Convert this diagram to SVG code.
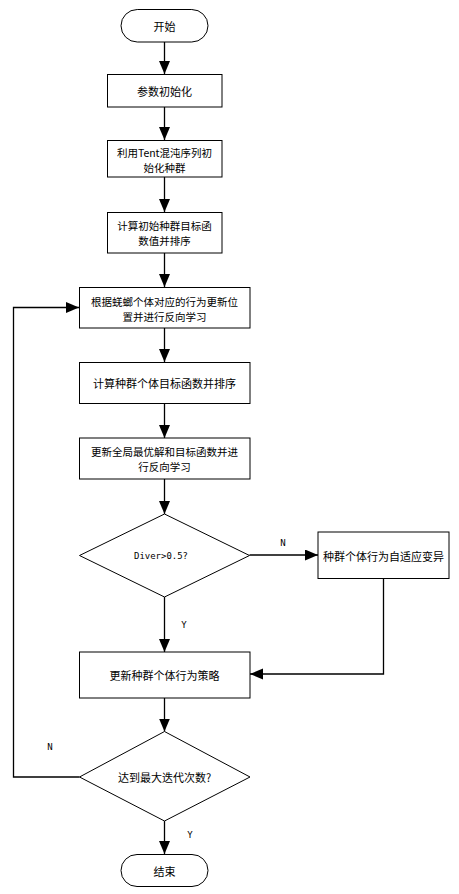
<svg xmlns="http://www.w3.org/2000/svg" width="459" height="894" viewBox="0 0 459 894">
<defs>
<style>
.box{fill:#fff;stroke:#000;stroke-width:1}
.t{font-family:"Noto Sans CJK SC","Liberation Sans",sans-serif;font-size:11px;fill:#000;text-anchor:middle;dominant-baseline:central}
.t2{font-size:10.5px}
.m{font-family:"DejaVu Sans Mono","Liberation Mono",monospace;font-size:9px;fill:#000;text-anchor:middle;dominant-baseline:central}
.c{fill:none;stroke:#000;stroke-width:1.3}
</style>
<marker id="ah" markerUnits="userSpaceOnUse" markerWidth="14" markerHeight="12" refX="13" refY="5.5" orient="auto">
<path d="M0,0 L13,5.5 L0,11 Z" fill="#000"/>
</marker>
</defs>
<rect width="459" height="894" fill="#fff"/>
<g id="connectors">
<path class="c" d="M164.5,42 V74" marker-end="url(#ah)"/>
<path class="c" d="M164.5,107 V140" marker-end="url(#ah)"/>
<path class="c" d="M164.5,177 V212" marker-end="url(#ah)"/>
<path class="c" d="M164.5,253 V287" marker-end="url(#ah)"/>
<path class="c" d="M164.5,328 V362" marker-end="url(#ah)"/>
<path class="c" d="M164.5,404 V438" marker-end="url(#ah)"/>
<path class="c" d="M164.5,479 V514" marker-end="url(#ah)"/>
<path class="c" d="M249.5,555 H318" marker-end="url(#ah)"/>
<path class="c" d="M164.5,597 V652" marker-end="url(#ah)"/>
<path class="c" d="M383.5,579 V674 H250" marker-end="url(#ah)"/>
<path class="c" d="M164.5,698 V731.5" marker-end="url(#ah)"/>
<path class="c" d="M79.5,777 H13.5 V307.5 H79" marker-end="url(#ah)"/>
<path class="c" d="M164.5,821 V854" marker-end="url(#ah)"/>
<text class="m" x="283" y="543">N</text>
<text class="m" x="184" y="625">Y</text>
<text class="m" x="50" y="747">N</text>
<text class="m" x="190" y="835">Y</text>
</g>
<g id="start">
<rect class="box" x="121" y="9.5" width="87" height="32.5" rx="16.25"/>
<text class="t" x="164.5" y="25.5">开始</text>
</g>
<g id="init">
<rect class="box" x="107.5" y="74.5" width="114.5" height="32.5"/>
<text class="t" x="164.5" y="90.5">参数初始化</text>
</g>
<g id="tent">
<rect class="box" x="107.5" y="140.5" width="114.5" height="36.5"/>
<text class="t t2"><tspan x="164.5" y="151.5">利用Tent混沌序列初</tspan><tspan x="164.5" y="166.5">始化种群</tspan></text>
</g>
<g id="calc1">
<rect class="box" x="107.5" y="212.5" width="114.5" height="40.5"/>
<text class="t t2"><tspan x="164.5" y="225">计算初始种群目标函</tspan><tspan x="164.5" y="240">数值并排序</tspan></text>
</g>
<g id="update-pos">
<rect class="box" x="79.5" y="287.5" width="170.5" height="40.5"/>
<text class="t t2"><tspan x="164.5" y="300.5">根据蜣螂个体对应的行为更新位</tspan><tspan x="164.5" y="315.5">置并进行反向学习</tspan></text>
</g>
<g id="calc2">
<rect class="box" x="79.5" y="362.5" width="170.5" height="41"/>
<text class="t" x="164.5" y="383">计算种群个体目标函数并排序</text>
</g>
<g id="update-best">
<rect class="box" x="79.5" y="438" width="170.5" height="41"/>
<text class="t t2"><tspan x="164.5" y="451">更新全局最优解和目标函数并进</tspan><tspan x="164.5" y="466">行反向学习</tspan></text>
</g>
<g id="diver">
<polygon class="box" points="164.5,514 249.5,555.5 164.5,597 79.5,555.5"/>
<text class="m" x="161" y="555.5" textLength="54" lengthAdjust="spacingAndGlyphs">Diver&gt;0.5?</text>
</g>
<g id="mutate">
<rect class="box" x="318" y="532" width="131" height="46.5"/>
<text class="t" x="383.5" y="555.5">种群个体行为自适应变异</text>
</g>
<g id="strategy">
<rect class="box" x="79.5" y="652" width="170.5" height="46"/>
<text class="t" x="164.5" y="675">更新种群个体行为策略</text>
</g>
<g id="maxiter">
<polygon class="box" points="164.5,731.5 250,777 164.5,821 79.5,777"/>
<text class="t" x="164.5" y="777">达到最大迭代次数?</text>
</g>
<g id="end">
<rect class="box" x="121" y="854.5" width="87" height="32" rx="16"/>
<text class="t" x="164.5" y="870.5">结束</text>
</g>
</svg>
